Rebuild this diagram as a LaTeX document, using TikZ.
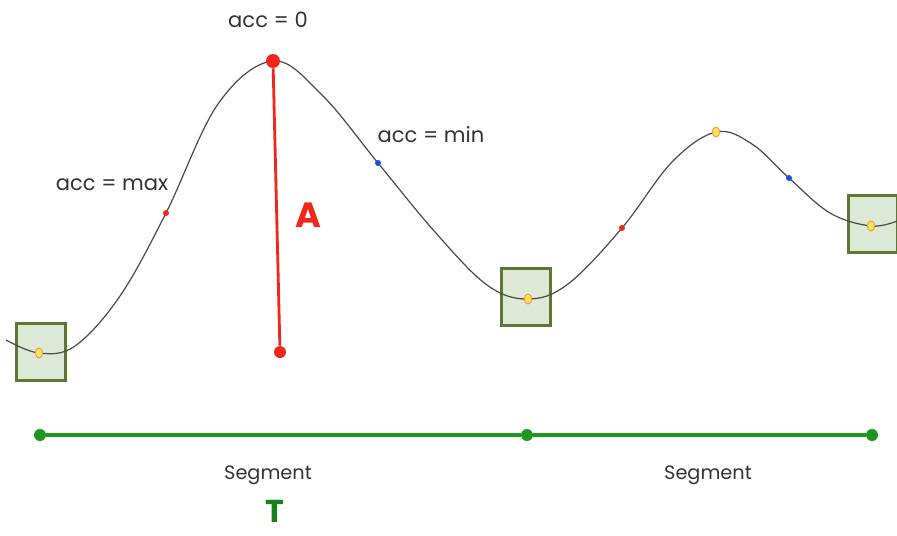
\documentclass[tikz,border=0pt]{standalone}
\usepackage{fontspec}
\setmainfont{Poppins}
\usetikzlibrary{shapes.geometric,shadows}
\definecolor{boxfill}{HTML}{DDE9D6}
\definecolor{boxline}{HTML}{5B7832}
\definecolor{segline}{HTML}{1C961C}
\definecolor{dotred}{HTML}{F2261A}
\definecolor{dotblue}{HTML}{1A4CF0}
\definecolor{knotfill}{HTML}{F4E25A}
\definecolor{knotline}{HTML}{EE9A3C}
\definecolor{textgray}{HTML}{333333}
\tikzset{
  knotbox/.style={rectangle, draw=boxline, fill=boxfill, line width=1.8pt, minimum width=0.98cm, minimum height=1.14cm, drop shadow={opacity=0.25, shadow xshift=0.8pt, shadow yshift=-0.8pt}},
  knot/.style={ellipse, draw=knotline, fill=knotfill, line width=0.5pt, minimum width=0.15cm, minimum height=0.2cm, inner sep=0pt},
  accdot/.style={circle, fill=#1, minimum size=0.12cm, inner sep=0pt},
  bigdot/.style={circle, fill=dotred, minimum size=#1, inner sep=0pt},
  segdot/.style={circle, fill=segline, minimum size=0.24cm, inner sep=0pt},
  label/.style={text=textgray, font=\fontsize{12}{14}\selectfont},
  seglabel/.style={text=textgray, font=\fontsize{11}{13}\selectfont},
}
\begin{document}
\begin{tikzpicture}[x=0.02cm, y=-0.02cm]
\useasboundingbox (0,0) rectangle (897,535);
% boxes
\node[knotbox] (b1) at (41, 352) {};
\node[knotbox] (b2) at (526, 297) {};
\node[knotbox] (b3) at (873, 224) {};
% curve
\draw[line width=0.7pt, black!70] plot[smooth, tension=0.6] coordinates {(6,340) (39,353) (75,346) (120,296) (166,213) (218,104) (273,61) (322,95) (378,163) (435,232) (487,285) (528,299) (568,284) (622,228) (672,162) (716,132) (752,144) (789,178) (830,213) (871,226) (897,221)};
% points on the curve
\node[knot] (k1) at (39, 353) {};
\node[knot] (k2) at (528, 299) {};
\node[knot] (k3) at (716, 132) {};
\node[knot] (k4) at (871, 226) {};
\node[accdot=dotred] (m1) at (166, 213) {};
\node[accdot=dotblue] (n1) at (378, 163) {};
\node[accdot=dotred] (m2) at (622, 228) {};
\node[accdot=dotblue] (n2) at (789, 178) {};
% amplitude
\node[bigdot=0.28cm] (top) at (273, 61) {};
\node[bigdot=0.24cm] (bot) at (280, 352) {};
\draw[line width=1.6pt, dotred] (top) -- (bot);
\node[text=dotred, font=\fontsize{20}{24}\selectfont\bfseries] (amp) at (308, 215) {A};
% labels
\node[label] (lzero) at (268, 20) {acc = 0};
\node[label] (lmin) at (431, 135) {acc = min};
\node[label] (lmax) at (112, 185) {acc = max};
% segments
\node[segdot] (s0) at (40, 435) {};
\node[segdot] (s1) at (527, 435) {};
\node[segdot] (s2) at (872, 435) {};
\draw[line width=2pt, segline] (s0) -- (s1);
\draw[line width=2pt, segline] (s1) -- (s2);
\node[seglabel] (seg1) at (268, 475) {Segment};
\node[seglabel] (seg2) at (708, 475) {Segment};
\node[text=segline!85!black, font=\fontsize{18}{22}\selectfont\bfseries, anchor=base, inner sep=0pt] (per) at (275, 522) {T};
\end{tikzpicture}
\end{document}
